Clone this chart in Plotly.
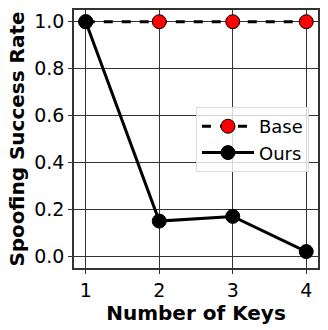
import plotly.graph_objects as go

keys = [1, 2, 3, 4]
base = [1.0, 1.0, 1.0, 1.0]
ours = [1.0, 0.15, 0.17, 0.02]
yticks = [0.0, 0.2, 0.4, 0.6, 0.8, 1.0]

fig = go.Figure()
fig.add_trace(go.Scatter(x=keys, y=base, name="Base", mode="lines+markers",
                         line=dict(color="black", width=3, dash="dash"),
                         marker=dict(color="red", size=14, line=dict(color="black", width=1))))
fig.add_trace(go.Scatter(x=keys, y=ours, name="Ours", mode="lines+markers",
                         line=dict(color="black", width=3),
                         marker=dict(color="black", size=14, line=dict(color="black", width=1))))

fig.update_layout(
    width=328, height=330,
    margin=dict(l=74, r=9, t=8, b=62),
    plot_bgcolor="white", paper_bgcolor="white",
    font=dict(family="DejaVu Sans", size=19, color="black"),
    legend=dict(x=0.963, y=0.498, xanchor="right", yanchor="middle",
                bgcolor="rgba(255,255,255,0.8)", bordercolor="#dddddd", borderwidth=1,
                font=dict(size=18), itemwidth=52),
)
fig.update_xaxes(range=[0.84, 4.16], tickvals=keys, ticktext=[str(k) for k in keys],
                 showgrid=True, gridcolor="#333333", gridwidth=1,
                 showline=True, linecolor="#333333", linewidth=1.5, mirror=True,
                 ticks="outside", ticklen=4, tickcolor="#333333", zeroline=False,
                 tickfont=dict(size=19),
                 title=dict(text="<b>Number of Keys</b>", font=dict(size=20), standoff=4))
fig.update_yaxes(range=[-0.05, 1.05], tickvals=yticks, ticktext=[f"{v:.1f}" for v in yticks],
                 showgrid=True, gridcolor="#333333", gridwidth=1,
                 showline=True, linecolor="#333333", linewidth=1.5, mirror=True,
                 ticks="outside", ticklen=4, tickcolor="#333333", zeroline=False,
                 tickfont=dict(size=19),
                 title=dict(text="<b>Spoofing Success Rate</b>", font=dict(size=20), standoff=4))

fig.write_html("out.html", config={"displayModeBar": False},
               post_script="document.body.style.margin='0';document.body.style.overflow='hidden';")
